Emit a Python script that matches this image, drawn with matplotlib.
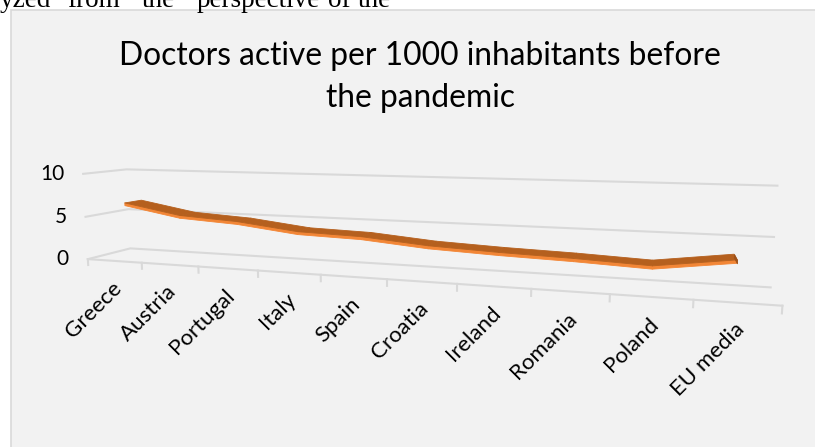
import numpy as np
import matplotlib.pyplot as plt
from matplotlib.patches import Rectangle
from matplotlib.transforms import offset_copy
from mpl_toolkits.mplot3d import proj3d
from mpl_toolkits.mplot3d.art3d import Poly3DCollection

countries = ["Greece", "Austria", "Portugal", "Italy", "Spain",
             "Croatia", "Ireland", "Romania", "Poland", "EU media"]
doctors = [6.5, 5.3, 4.9, 4.1, 3.9, 3.3, 3.0, 2.8, 2.5, 3.5]
y_ticks = [0, 5, 10]
title = "Doctors active per 1000 inhabitants before\nthe pandemic"

W, H = 815, 447
fig = plt.figure(figsize=(W / 100, H / 100), dpi=100)
fig.patch.set_facecolor("white")

# tail of the paragraph above the chart
words = ["yzed", "from", "the", "perspective", "of", "the"]
word_x = [0, 67, 142, 197, 328, 358]
for wd, wx in zip(words, word_x):
    fig.text(wx / W, 1 - 6.7 / H, wd, family="Liberation Serif", fontsize=19.5,
             va="baseline", ha="left")

# chart area
fig.add_artist(Rectangle((11 / W, -0.1), 1.2, 1 - 10 / H + 0.1,
                         transform=fig.transFigure, facecolor="#F2F2F2",
                         edgecolor="#D9D9D9", lw=1.2, zorder=0))

fig.text(420 / W, 1 - 77 / H, title, family="Lato", fontsize=22.9,
         ha="center", va="center", linespacing=1.5)

# square 3d axes, placed so the box centre lands at (cx, cy) px
side = 683.6
cx, cy = 398.9, 221
ax = fig.add_axes([(cx - 0.5135 * side) / W, (cy - 0.5135 * side) / H,
                   side / W, side / H], projection="3d", computed_zorder=False)
ax.set_facecolor("none")
ax.set_axis_off()

n = len(countries)
grid_c = "#D9D9D9"
line_kw = dict(color=grid_c, lw=1.5, zorder=1, clip_on=False)
# side wall + back wall gridlines
for z in y_ticks:
    ax.plot([-0.5, -0.5, n - 0.5], [0, 1, 1], [z, z, z], **line_kw)
# floor front edge and tick marks
ax.plot([-0.5, n - 0.5], [0, 0], [0, 0], **line_kw)
for xb in np.arange(-0.5, n, 1.0):
    ax.plot([xb, xb], [0, 0], [0, -0.7], **line_kw)

# ribbon: top face, front face, end cap
y0, y1, t = 0.3, 0.7, 0.32
tops, fronts = [], []
for i in range(n - 1):
    a, b = doctors[i], doctors[i + 1]
    tops.append([(i, y0, a), (i + 1, y0, b), (i + 1, y1, b), (i, y1, a)])
    fronts.append([(i, y0, a), (i + 1, y0, b), (i + 1, y0, b - t), (i, y0, a - t)])
last = doctors[-1]
cap = [[(n - 1, y0, last), (n - 1, y1, last), (n - 1, y1, last - t), (n - 1, y0, last - t)]]
ax.add_collection3d(Poly3DCollection(fronts, facecolor="#F28636", edgecolor="#F28636",
                                     lw=0.6, zorder=3, clip_on=False))
ax.add_collection3d(Poly3DCollection(tops, facecolor="#B5601E", edgecolor="#B5601E",
                                     lw=0.6, zorder=4, clip_on=False))
ax.add_collection3d(Poly3DCollection(cap, facecolor="#9E521A", edgecolor="#9E521A",
                                     lw=0.6, zorder=4, clip_on=False))

ax.set_xlim(-0.5, n - 0.5)
ax.set_ylim(0, 1)
ax.set_zlim(0, 10)
ax.set_box_aspect((10, 1.07, 1.35))
ax.view_init(elev=8, azim=-72, roll=0)
ax.set_proj_type("persp", focal_length=0.215)

M = ax.get_proj()
for z in y_ticks:
    px, py, _ = proj3d.proj_transform(-0.5, 0, z, M)
    ax.text2D(px, py, str(z), family="Lato", fontsize=15, ha="right", va="center",
              transform=offset_copy(ax.transData, fig=fig, x=-19, y=0, units="dots"))
for i, name in enumerate(countries):
    px, py, _ = proj3d.proj_transform(i, 0, 0, M)
    ax.text2D(px, py, name, family="Lato", fontsize=16, ha="right", va="center",
              rotation=45, rotation_mode="anchor",
              transform=offset_copy(ax.transData, fig=fig, x=4, y=-24, units="dots"))

fig.savefig("out.png", dpi=100, facecolor=fig.get_facecolor())
